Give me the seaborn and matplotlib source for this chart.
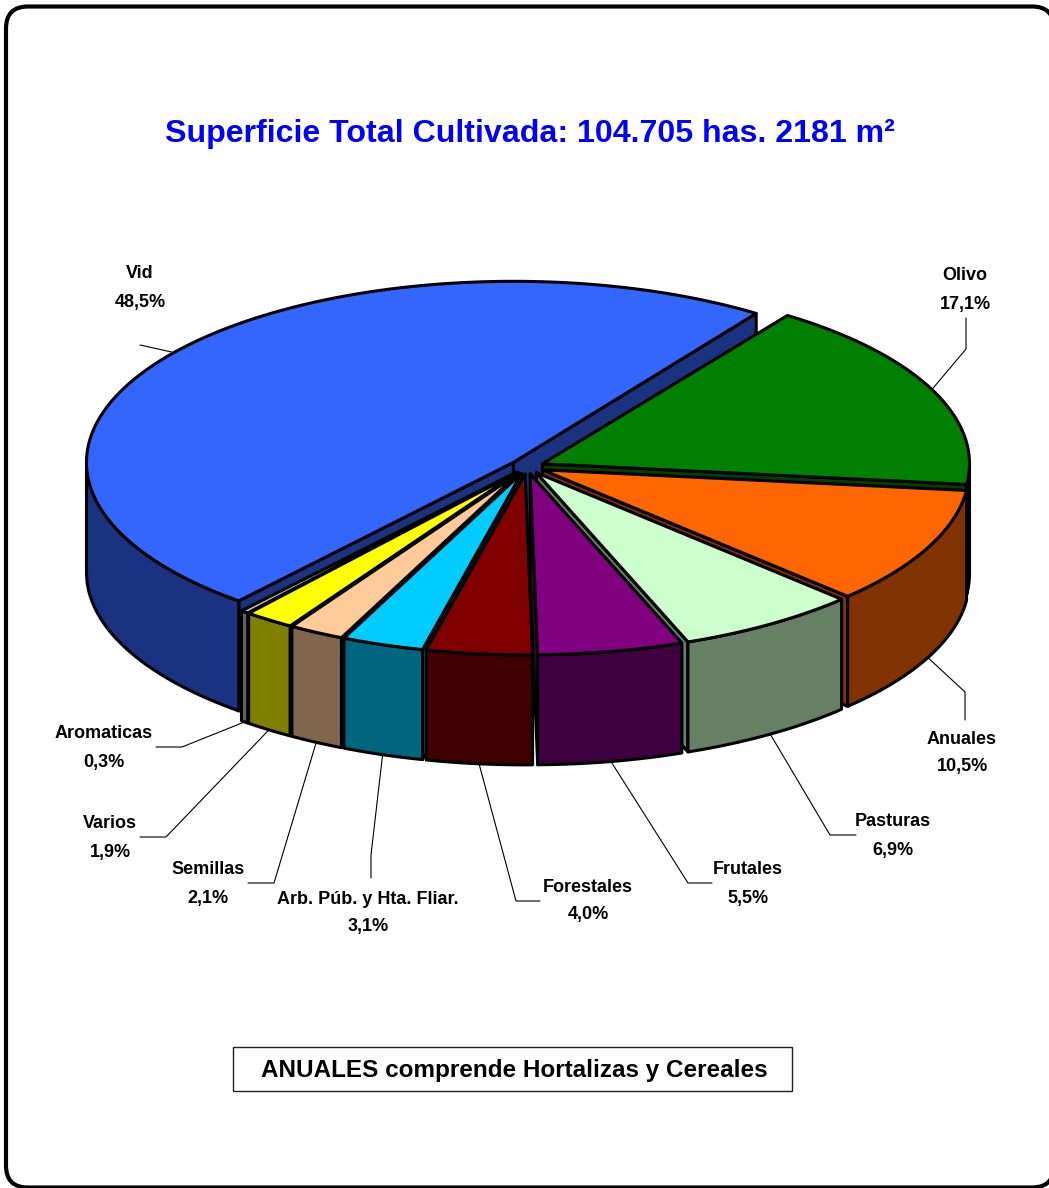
import numpy as np
import matplotlib
matplotlib.use("Agg")
import matplotlib.pyplot as plt
from matplotlib.patches import FancyBboxPatch, Rectangle
import seaborn as sns

# clockwise from the top right, as in the original
names = ['Olivo', 'Anuales', 'Pasturas', 'Frutales', 'Forestales',
         'Arb. Púb. y Hta. Fliar.', 'Semillas', 'Varios', 'Aromaticas', 'Vid']
shares = [17.1, 10.5, 6.9, 5.5, 4.0, 3.1, 2.1, 1.9, 0.3, 48.5]
colors = ['#008000', '#FF6600', '#CCFFCC', '#800080', '#800000',
          '#00CCFF', '#FFCC99', '#FFFF00', '#C0C0C0', '#3366FF']
title = 'Superficie Total Cultivada: 104.705 has. 2181 m²'
note = 'ANUALES comprende Hortalizas y Cereales'

# label layout, in pixels: bend, end of leader, label centre, y of 2nd line
leaders = {
    'Olivo': ([(966, 349), (966, 318)], 965, 276, 304),
    'Anuales': ([(965, 692), (965, 720)], 962, 739, 767),
    'Pasturas': ([(830, 835), (856, 835)], 893, 822, 850),
    'Frutales': ([(688, 883), (712, 883)], 748, 870, 898),
    'Forestales': ([(516, 901), (540, 901)], 588, 887, 915),
    'Arb. Púb. y Hta. Fliar.': ([(371, 855), (371, 878)], 368, 899, 927),
    'Semillas': ([(274, 883), (248, 883)], 208, 870, 898),
    'Varios': ([(166, 837), (140, 837)], 110, 823, 852),
    'Aromaticas': ([(182, 747), (156, 747)], 104, 733, 762),
    'Vid': ([(140, 345)], 140, 273, 302),
}

sns.set_theme(style='white')
plt.rcParams['font.family'] = ['Liberation Sans']

cx, cy = 527, 466.7
rx, ry = 427, 181
depth = 110
explode = 17
start = 55

fig = plt.figure(figsize=(10.49, 11.88), dpi=100)
ax = fig.add_axes([0, 0, 1, 1])
ax.set_xlim(0, 1049)
ax.set_ylim(1188, 0)
ax.axis('off')

ax.add_patch(FancyBboxPatch((6, 6.5), 1048, 1181, boxstyle='round,pad=0,rounding_size=22',
                            fc='white', ec='black', lw=3, clip_on=True))

palette = sns.color_palette(colors)
shades = [tuple(c * 0.5 for c in col) for col in palette]

edges = start - np.cumsum([0] + shares) * 3.6
slices = []
for i, name in enumerate(names):
    a1, a2 = edges[i], edges[i + 1]
    mid = np.radians((a1 + a2) / 2)
    ox = cx + explode * np.cos(mid)
    oy = cy - explode * (ry / rx) * np.sin(mid)
    slices.append((np.sin(mid), i, a1, a2, mid, ox, oy))


def rim(t, ox, oy):
    t = np.radians(t)
    return ox + rx * np.cos(t), oy - ry * np.sin(t)


# back to front
style = dict(ec='black', lw=2.2, joinstyle='round')
for _, i, a1, a2, mid, ox, oy in sorted(slices, key=lambda s: -s[0]):
    # radial cut faces
    for ang, show in ((a1, np.cos(np.radians(a1)) < 0), (a2, np.cos(np.radians(a2)) > 0)):
        if show:
            x, y = rim(ang, ox, oy)
            ax.fill([ox, x, x, ox], [oy, y, y + depth, oy + depth], fc=shades[i], **style)
    # outer wall, only the part facing the viewer
    t = np.linspace(a2, a1, 300)
    t = t[np.sin(np.radians(t)) <= 0]
    if len(t) > 1:
        x, y = rim(t, ox, oy)
        ax.fill(np.r_[x, x[::-1]], np.r_[y, y[::-1] + depth], fc=shades[i], **style)
    # top
    t = np.linspace(a1, a2, 300)
    x, y = rim(t, ox, oy)
    ax.fill(np.r_[ox, x], np.r_[oy, y], fc=palette[i], **style)

# leader lines and labels
for _, i, a1, a2, mid, ox, oy in slices:
    name = names[i]
    x0, y0 = rim(np.degrees(mid), ox, oy)
    if np.sin(mid) < 0:
        y0 += depth
    pts, lx, ly1, ly2 = leaders[name]
    ax.plot([x0] + [p[0] for p in pts], [y0] + [p[1] for p in pts],
            color='black', lw=0.8, zorder=1.5 if np.sin(mid) > 0 else 5)
    ax.text(lx, ly1, name, color='black', ha='center', va='center', fontsize=13, fontweight='bold')
    ax.text(lx, ly2, f'{shares[i]:.1f}%'.replace('.', ','), color='black', ha='center', va='center',
            fontsize=13, fontweight='bold')

ax.text(530, 134, title, color='#0000FF', ha='center', va='center', fontsize=23.1, fontweight='bold')
ax.add_patch(Rectangle((233, 1047), 559, 44, fc='white', ec='#202020', lw=1))
ax.text(514, 1070, note, color='black', ha='center', va='center', fontsize=17.5, fontweight='bold')

fig.savefig('out.png', dpi=100)
